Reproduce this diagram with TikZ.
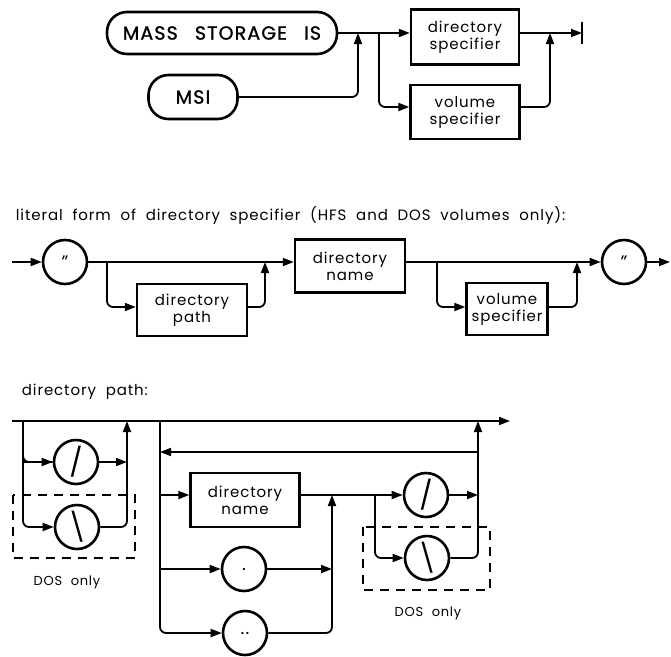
\documentclass[tikz,border=0pt]{standalone}
\usepackage{fontspec}
\setmainfont{Poppins}[LetterSpace=6]
\usetikzlibrary{arrows.meta}
\newcommand{\wsp}{\hspace{0.65em}}
\begin{document}
\begin{tikzpicture}[x=1pt,y=-1pt,
  line width=1.8pt,
  arr/.style={-{Triangle[length=11pt,width=8pt]}},
  rc/.style={rounded corners=6pt},
  box/.style={draw,line width=2.4pt,rectangle,inner sep=0pt,align=center,
    font=\fontsize{15}{17}\selectfont},
  circ/.style={draw,line width=2.6pt,circle,inner sep=0pt,minimum size=44pt,
    font=\fontsize{18}{18}\selectfont},
  big/.style={font=\fontsize{28}{28}\selectfont},
  term/.style={draw,line width=2.6pt,rectangle,rounded corners=20pt,inner sep=0pt,
    font=\addfontfeatures{FakeBold=1.2}\fontsize{19}{19}\selectfont},
  lbl/.style={anchor=west,inner sep=0pt,font=\fontsize{15}{17}\selectfont},
  dos/.style={inner sep=0pt,font=\fontsize{13}{15}\selectfont},
  dbox/.style={line width=1.3pt,dash pattern=on 9pt off 7pt}]
\useasboundingbox (0,0) rectangle (671,656);

% ---------------- top section ----------------
\node[term,minimum width=230pt,minimum height=42pt] (mass) at (222,33) {MASS\hspace{0.9em}STORAGE\hspace{0.9em}IS};
\node[term,minimum width=89pt,minimum height=44pt] (msi) at (193,97) {MSI};
\node[box,minimum width=108pt,minimum height=55pt] (dspec) at (465,37) {directory\\specifier};
\node[box,minimum width=109pt,minimum height=54pt] (vspec) at (465,112) {volume\\specifier};
\coordinate (m1) at (358,33);
\coordinate (s1) at (379,33);
\coordinate (s1b) at (379,107);
\coordinate (m1b) at (550,33);
\coordinate (endc) at (582,33);
\draw (mass.east) -- (s1);
\draw[arr] (s1) -- (dspec.west |- s1);
\draw[arr,rc] (msi.east) -| (m1);
\draw[arr,rc] (s1) |- (vspec.west |- s1b);
\draw[arr] (dspec.east |- s1) -- (endc);
\draw[arr,rc] (vspec.east |- s1b) -| (m1b);
\draw[line width=2.4pt] ([yshift=11pt]endc) -- ([yshift=-11pt]endc);

% ---------------- literal form ----------------
\node[lbl] (lit) at (15,215) {literal\wsp form\wsp of\wsp directory\wsp specifier\wsp (HFS\wsp and\wsp DOS\wsp volumes\wsp only):};
\coordinate (in2) at (12,262);
\node[circ] (q1) at (65,262) {"};
\node[box,minimum width=110pt,minimum height=52pt] (dpath) at (192,310) {directory\\path};
\node[box,minimum width=110pt,minimum height=53pt] (dname) at (350,266) {directory\\name};
\node[box,minimum width=81pt,minimum height=52pt] (vspec2) at (507,309) {volume\\specifier};
\node[circ] (q2) at (624,262) {"};
\coordinate (out2) at (670,262);
\coordinate (s2) at (107,262);
\coordinate (s2b) at (107,307);
\coordinate (m2) at (265,262);
\coordinate (s3) at (437,262);
\coordinate (s3b) at (437,307);
\coordinate (m3) at (577,262);
\draw[arr] (in2) -- (q1);
\draw[arr] (q1) -- (dname.west |- s2);
\draw[arr,rc] (s2) |- (dpath.west |- s2b);
\draw[arr,rc] (dpath.east |- s2b) -| (m2);
\draw[arr] (dname.east |- s3) -- (q2);
\draw[arr,rc] (s3) |- (vspec2.west |- s3b);
\draw[arr,rc] (vspec2.east |- s3b) -| (m3);
\draw[arr] (q2) -- (out2);

% ---------------- directory path ----------------
\node[lbl] (dp) at (21,392) {directory\wsp path:};
\coordinate (t0) at (12,421);
\coordinate (t1) at (510,421);
\coordinate (a1) at (23,421);
\coordinate (a2) at (127,421);
\coordinate (a2m) at (127,462);
\node[circ,big] (sl1) at (76,462) {/};
\node[circ,big] (bs1) at (77,527) {\textbackslash};
\draw[arr] (t0) -- (t1);
\draw[rc] (a1) |- (sl1);
\draw[arr] (a1 |- sl1) -- (sl1);
\draw[arr,rc] (a1) |- (bs1);
\draw[arr] (sl1) -- (a2m);
\draw[arr,rc] (bs1) -| (a2);
\draw[dbox] (13,495) rectangle (135,558);
\node[dos] at (67,582) {DOS\wsp only};

\coordinate (r1) at (160,421);
\coordinate (r2) at (478,421);
\coordinate (ret) at (478,452);
\coordinate (retl) at (160,452);
\coordinate (l5) at (160,495);
\coordinate (l6) at (160,569);
\coordinate (j1) at (332,495);
\coordinate (j1d) at (332,569);
\coordinate (s4) at (375,495);
\coordinate (r2m) at (478,495);
\node[box,minimum width=109pt,minimum height=54pt] (dn3) at (245,500) {directory\\name};
\node[circ] (dot) at (244,569) {.};
\node[circ] (ddot) at (245,633) {..};
\node[circ,big] (sl2) at (426,495) {/};
\node[circ,big] (bs2) at (427,558) {\textbackslash};
\draw[arr] (ret) -- (retl);
\draw[arr,rc] (r1) |- (ddot);
\draw[arr] (l5) -- (dn3.west |- l5);
\draw[arr] (l6) -- (dot);
\draw[arr] (dot) -- (j1d);
\draw[arr,rc] (ddot) -| (j1);
\draw (dn3.east |- l5) -- (s4);
\draw[arr] (s4) -- (sl2);
\draw[arr] (sl2) -- (r2m);
\draw[arr,rc] (s4) |- (bs2);
\draw[arr,rc] (bs2) -| (r2);
\draw[dbox] (363,527) rectangle (490,590);
\node[dos] at (428,613) {DOS\wsp only};
\end{tikzpicture}
\end{document}
